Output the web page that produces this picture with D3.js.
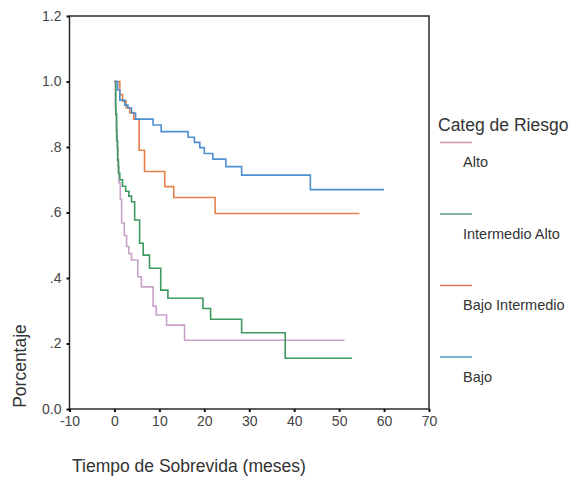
<!DOCTYPE html>
<html><head><meta charset="utf-8">
<script src="https://cdn.jsdelivr.net/npm/d3@7"></script>
<style>body{margin:0;background:#fff;}svg{display:block;font-family:Arial,"Liberation Sans",sans-serif;}</style>
</head><body>
<svg id="c" width="574" height="481"></svg>
<script>
const categories = ["Alto","Intermedio Alto","Bajo Intermedio","Bajo"];
const colors = ["#c9a2cc","#3d9a5e","#e8804c","#4d90d0"];
const legendColors = ["#d593ae","#5b9c7a","#e8735e","#4b9cc4"];
const altoT = [0,0.2,0.4,0.6,0.8,1.0,1.3,1.6,2.2,2.7,3.2,3.8,5.2,6,8.6,9.3,11.6,15.6,51.2];
const altoV = [1,0.92,0.85,0.8,0.74,0.69,0.64,0.568,0.53,0.496,0.475,0.455,0.404,0.373,0.314,0.287,0.256,0.21,0.21];
const intAltoT = [0,0.3,0.5,0.7,0.9,1.2,1.8,2.5,3.2,3.8,4.5,5.6,6.4,7.8,10.3,11.9,19.7,21.4,28.3,38,52.9];
const intAltoV = [1,0.9,0.82,0.76,0.72,0.70,0.68,0.665,0.65,0.633,0.577,0.506,0.47,0.43,0.363,0.338,0.307,0.274,0.233,0.155,0.155];
const bajoIntT = [0,1.2,1.8,2.6,3.4,4.3,5.5,6.7,11.2,13.2,22.4,54.5];
const bajoIntV = [1,0.96,0.94,0.92,0.905,0.885,0.79,0.725,0.679,0.646,0.597,0.597];
const bajoT = [0,0.7,1.2,2.3,3,3.8,4.7,8.6,10.4,16.4,17.8,19,20,21.9,24.8,28.3,43.6,60];
const bajoV = [1,0.974,0.943,0.928,0.919,0.904,0.885,0.867,0.847,0.83,0.814,0.798,0.78,0.763,0.74,0.714,0.67,0.67];
const xTicks = [-10,0,10,20,30,40,50,60,70];
const xTickLabels = ["-10","0","10","20","30","40","50","60","70"];
const yTicks = [0,0.2,0.4,0.6,0.8,1.0,1.2];
const yTickLabels = ["0.0",".2",".4",".6",".8","1.0","1.2"];

const series = [[altoT,altoV],[intAltoT,intAltoV],[bajoIntT,bajoIntV],[bajoT,bajoV]];
const svg = d3.select("#c");
const L=69.5, R=429, T=16, B=409;
const x = d3.scaleLinear().domain([-10,70]).range([L,R]);
const y = d3.scaleLinear().domain([0,1.2]).range([B,T]);

svg.append("rect").attr("x",L).attr("y",T).attr("width",R-L).attr("height",B-T)
  .attr("fill","none").attr("stroke","#2a2a2a").attr("stroke-width",1.5);

const yAxis = svg.append("g").attr("transform",`translate(${L},0)`)
  .call(d3.axisLeft(y).tickValues(yTicks).tickFormat((d,i)=>yTickLabels[i]).tickSize(3).tickPadding(5));
const xAxis = svg.append("g").attr("transform",`translate(0,${B})`)
  .call(d3.axisBottom(x).tickValues(xTicks).tickFormat((d,i)=>xTickLabels[i]).tickSize(3).tickPadding(4));
[yAxis,xAxis].forEach(g=>{
  g.select(".domain").remove();
  g.selectAll(".tick line").attr("stroke","#111").attr("stroke-width",2);
  g.selectAll(".tick text").attr("fill","#444").style("font-size","14px").style("font-family","Arial,'Liberation Sans',sans-serif");
});

const line = d3.line().curve(d3.curveStepAfter).x(d=>x(d[0])).y(d=>y(d[1]));
series.forEach((s,i)=>{
  const pts = s[0].map((t,j)=>[t,s[1][j]]);
  svg.append("path").datum(pts).attr("d",line).attr("fill","none")
    .attr("stroke",colors[i]).attr("stroke-width",1.6);
});

svg.append("text").attr("x",20).attr("y",366).attr("transform","rotate(-90,20,366)")
  .attr("text-anchor","middle").attr("dominant-baseline","central")
  .attr("fill","#333").style("font-size","17.5px").text("Porcentaje");
svg.append("text").attr("x",72).attr("y",472).attr("fill","#333").style("font-size","17.5px")
  .text("Tiempo de Sobrevida (meses)");

svg.append("text").attr("x",438).attr("y",131).attr("fill","#333").style("font-size","17.5px").text("Categ de Riesgo");
categories.forEach((c,i)=>{
  const ly = 142.5 + i*71.5;
  svg.append("line").attr("x1",440).attr("x2",472).attr("y1",ly).attr("y2",ly)
    .attr("stroke",legendColors[i]).attr("stroke-width",1.5);
  svg.append("text").attr("x",463).attr("y",ly+24.5).attr("fill","#333").style("font-size","14.5px").text(c);
});
</script>
</body></html>
